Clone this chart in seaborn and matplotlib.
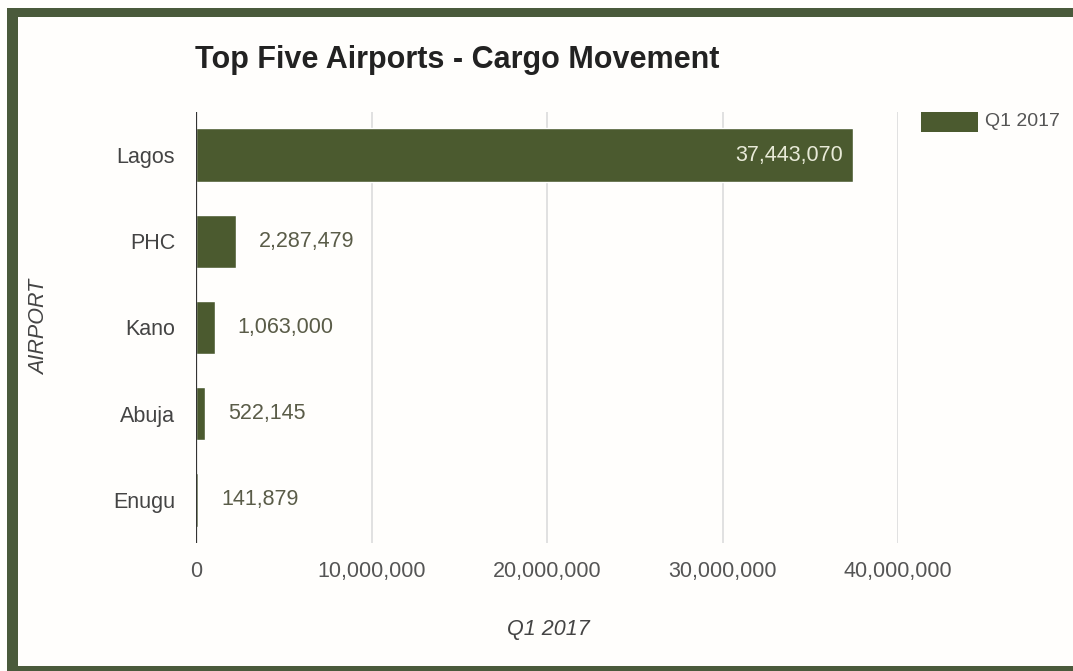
import matplotlib
matplotlib.use("Agg")
import matplotlib.pyplot as plt
from matplotlib.patches import Rectangle
import seaborn as sns
import pandas as pd

# Cargo movement, Q1 2017
airports = ["Lagos", "PHC", "Kano", "Abuja", "Enugu"]
cargo = [37443070, 2287479, 1063000, 522145, 141879]
series_name = "Q1 2017"
x_ticks = [0, 10000000, 20000000, 30000000, 40000000]

BAR = "#4b5a2f"
FRAME = "#4a5a3b"

sns.set_theme(style="white")
plt.rcParams["font.family"] = ["Liberation Sans", "DejaVu Sans"]

df = pd.DataFrame({"airport": airports, "cargo": cargo, "series": series_name})

W, H = 1073, 671
fig = plt.figure(figsize=(W / 100, H / 100), dpi=100)
fig.patch.set_facecolor("#fffefc")

ax = fig.add_axes([196 / W, 1 - 543 / H, (898 - 196) / W, (543 - 112) / H])
sns.barplot(data=df, y="airport", x="cargo", hue="series", palette=[BAR],
            orient="h", width=0.62, ax=ax, legend=False, saturation=1)

ax.set_xlim(0, 40000000)
ax.set_ylim(4.5, -0.5)
ax.set_xticks(x_ticks)
ax.set_xticklabels([f"{v:,}" for v in x_ticks])
ax.tick_params(axis="x", length=0, pad=13, labelsize=15.5, labelcolor="#555555")
ax.tick_params(axis="y", length=0, pad=15, labelsize=15.5, labelcolor="#444444")
for s in ax.spines.values():
    s.set_visible(False)
ax.set_facecolor("none")
ax.grid(axis="x", color="#dcdcdc", linewidth=1.2, zorder=0)
ax.set_axisbelow(True)
ax.axvline(0, color="#333333", linewidth=1.6, zorder=3)

ax.set_xlabel("")
ax.set_ylabel("")
fig.text(548 / W, 1 - 630 / H, series_name, ha="center", va="center",
         fontsize=15.5, style="italic", color="#444444")
fig.text(40 / W, 1 - 327 / H, "AIRPORT", ha="center", va="center",
         fontsize=15.5, style="italic", color="#444444", rotation=90)

# value labels
for i, v in enumerate(cargo):
    if v > 20000000:
        ax.text(v - 600000, i, f"{v:,}", ha="right", va="center",
                fontsize=15.5, color="#e8ead8")
    else:
        ax.text(v + 1300000, i, f"{v:,}", ha="left", va="center",
                fontsize=15.5, color="#5a5c48")

# title
fig.text(195 / W, 1 - 60 / H, "Top Five Airports - Cargo Movement",
         ha="left", va="center", fontsize=22, fontweight="bold", color="#222222")

# legend
fig.patches.append(Rectangle((921 / W, 1 - 132 / H), 57 / W, 20 / H,
                             transform=fig.transFigure, facecolor=BAR,
                             edgecolor="none"))
fig.text(985 / W, 1 - 122 / H, series_name, ha="left", va="center",
         fontsize=14, color="#555555")

# frame
fig.patches.append(Rectangle((7 / W, 0), 11 / W, 1 - 8 / H,
                             transform=fig.transFigure, facecolor=FRAME,
                             edgecolor="none"))
fig.patches.append(Rectangle((7 / W, 1 - 17 / H), 1 - 7 / W, 9 / H,
                             transform=fig.transFigure, facecolor=FRAME,
                             edgecolor="none"))
fig.patches.append(Rectangle((7 / W, 0), 1 - 7 / W, 5 / H,
                             transform=fig.transFigure, facecolor=FRAME,
                             edgecolor="none"))

fig.savefig("out.png", dpi=100, facecolor=fig.get_facecolor())
